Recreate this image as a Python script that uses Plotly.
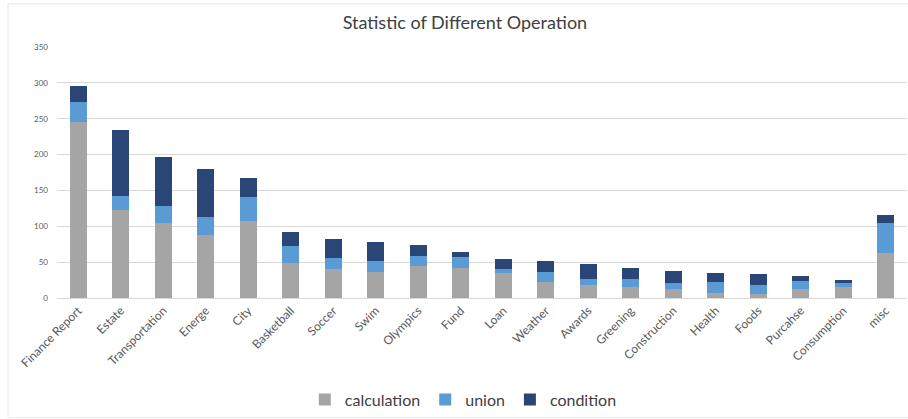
import plotly.graph_objects as go

categories = ["Finance Report", "Estate", "Transportation", "Energe", "City", "Basketball",
              "Soccer", "Swim", "Olympics", "Fund", "Loan", "Weather", "Awards", "Greening",
              "Construction", "Health", "Foods", "Purcahse", "Consumption", "misc"]
calculation = [245, 123, 104, 88, 107, 49, 41, 36, 44, 42, 35, 22, 18, 15, 13, 7, 5, 13, 16, 63]
union = [29, 19, 24, 25, 34, 23, 15, 16, 14, 15, 5, 14, 8, 11, 8, 16, 13, 11, 5, 41]
condition = [21, 92, 69, 67, 27, 20, 26, 26, 16, 7, 15, 16, 21, 16, 17, 12, 15, 6, 4, 12]
y_ticks = [0, 50, 100, 150, 200, 250, 300, 350]

series = [("calculation", calculation, "#A5A5A5"),
          ("union", union, "#5B9BD5"),
          ("condition", condition, "#2A4677")]

fig = go.Figure()
for name, vals, col in series:
    fig.add_trace(go.Bar(x=categories, y=vals, name=name, marker_color=col,
                         marker_line_width=0))

fig.update_layout(
    width=908, height=419,
    barmode="stack", bargap=0.6,
    font=dict(family="Lato, Open Sans, sans-serif", color="#595959"),
    title=dict(text="Statistic of Different Operation", x=0.512, xanchor="center",
               y=0.945, yanchor="middle", font=dict(size=18, color="#404040")),
    margin=dict(l=57, r=1, t=47, b=121),
    plot_bgcolor="white", paper_bgcolor="white",
    legend=dict(orientation="h", x=0.478, xanchor="center", y=-0.405, yanchor="middle",
                font=dict(size=16, color="#404040"), traceorder="normal",
                itemwidth=30),
    showlegend=True,
)
fig.update_yaxes(range=[0, 350], tickvals=y_ticks, showgrid=True, gridcolor="#D9D9D9",
                 gridwidth=1, zeroline=False, showline=False,
                 tickfont=dict(size=8, color="#595959"), ticks="", ticklabelstandoff=8)
fig.update_xaxes(tickangle=-45, tickfont=dict(size=12, color="#595959"),
                 showline=True, linecolor="#D9D9D9", linewidth=1, ticks="")
fig.add_shape(type="rect", xref="paper", yref="paper",
              x0=-49/850, x1=1.01, y0=-0.477, y1=1.172,
              line=dict(color="#E6E6E6", width=1), layer="below")

fig.write_html("out.html")
